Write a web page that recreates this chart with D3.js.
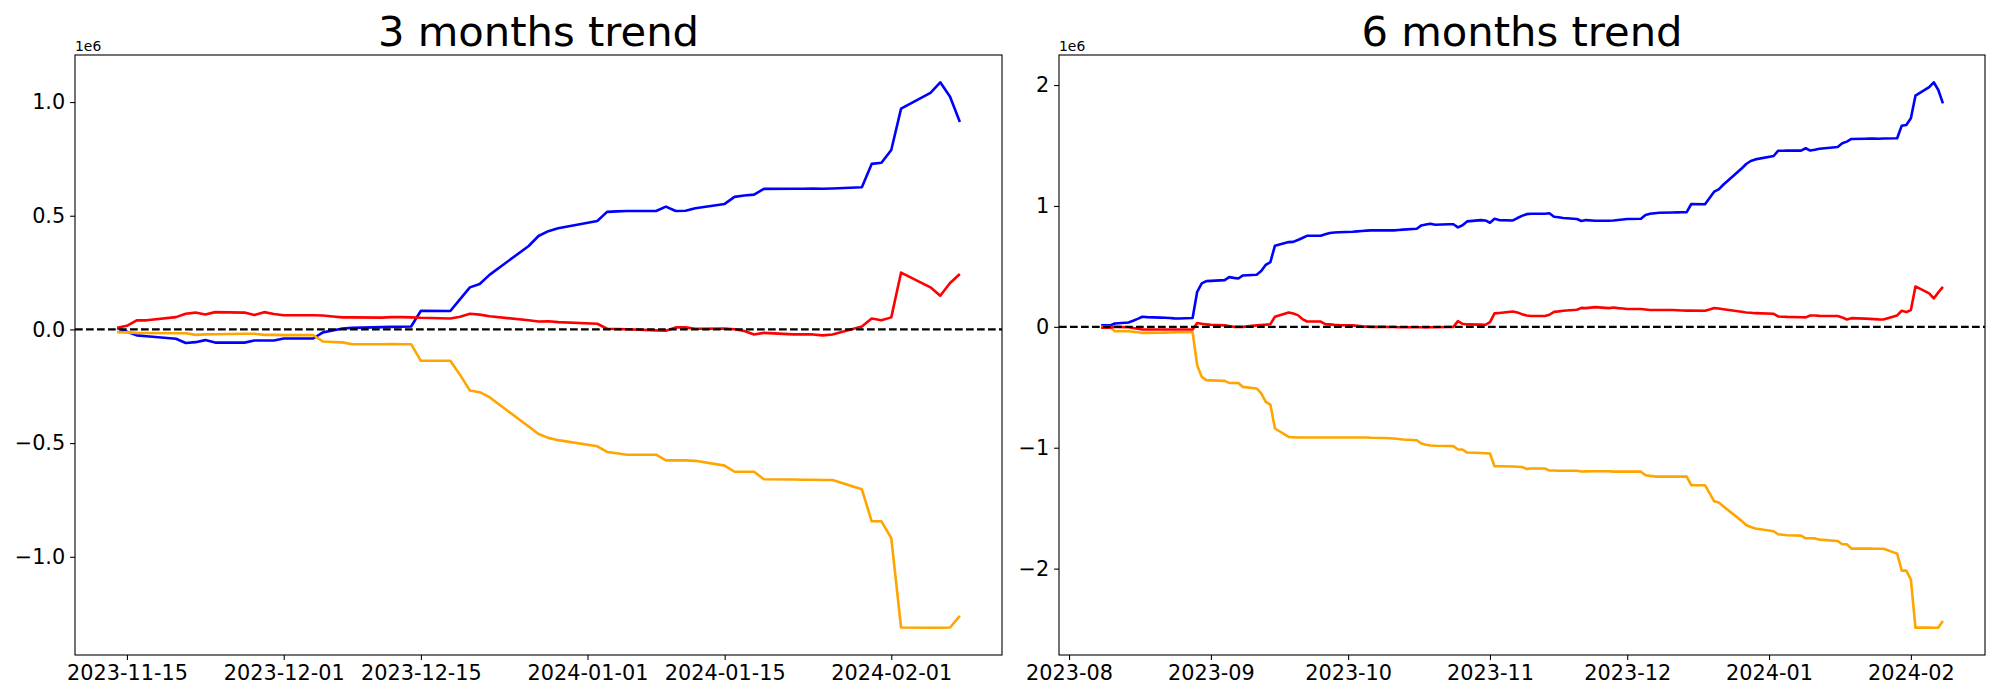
<!DOCTYPE html>
<html>
<head>
<meta charset="utf-8">
<script src="https://cdn.jsdelivr.net/npm/d3@7"></script>
<style>
  body { margin: 0; background: #fff; }
  text { font-family: "DejaVu Sans", sans-serif; }
</style>
</head>
<body>
<div id="chart"></div>
<script>
// 3 months panel
var dates3m = ["2023-11-14","2023-11-15","2023-11-16","2023-11-17","2023-11-20","2023-11-21","2023-11-22","2023-11-23","2023-11-24",
  "2023-11-27","2023-11-28","2023-11-29","2023-11-30","2023-12-01","2023-12-04","2023-12-05","2023-12-06","2023-12-07","2023-12-08",
  "2023-12-11","2023-12-12","2023-12-13","2023-12-14","2023-12-15","2023-12-18","2023-12-19","2023-12-20","2023-12-21","2023-12-22",
  "2023-12-26","2023-12-27","2023-12-28","2023-12-29","2024-01-02","2024-01-03","2024-01-04","2024-01-05","2024-01-08","2024-01-09",
  "2024-01-10","2024-01-11","2024-01-12","2024-01-15","2024-01-16","2024-01-17","2024-01-18","2024-01-19","2024-01-22","2024-01-23",
  "2024-01-24","2024-01-25","2024-01-26","2024-01-29","2024-01-30","2024-01-31","2024-02-01","2024-02-02","2024-02-05","2024-02-06",
  "2024-02-07","2024-02-08"];
var blue3m = [0.006,-0.010,-0.026,-0.030,-0.041,-0.060,-0.056,-0.047,-0.058,
  -0.058,-0.049,-0.049,-0.049,-0.040,-0.040,-0.013,-0.005,0.004,0.007,
  0.010,0.011,0.012,0.013,0.082,0.081,0.133,0.185,0.200,0.240,
  0.367,0.411,0.432,0.445,0.477,0.517,0.519,0.521,0.521,0.540,
  0.521,0.522,0.533,0.552,0.583,0.589,0.593,0.618,0.619,0.619,
  0.620,0.619,0.620,0.625,0.728,0.733,0.789,0.971,1.040,1.087,
  1.023,0.912];
var red3m = [0.007,0.016,0.040,0.040,0.054,0.069,0.074,0.066,0.076,
  0.074,0.063,0.076,0.068,0.062,0.062,0.061,0.057,0.053,0.053,
  0.052,0.054,0.054,0.053,0.051,0.048,0.056,0.069,0.065,0.058,
  0.040,0.035,0.036,0.032,0.025,0.003,0.002,0.001,-0.004,-0.006,
  0.009,0.009,0.003,0.004,0.001,-0.007,-0.022,-0.015,-0.022,-0.022,
  -0.022,-0.026,-0.022,0.013,0.048,0.040,0.053,0.250,0.185,0.148,
  0.204,0.244];
var orange3m = [-0.012,-0.013,-0.015,-0.016,-0.017,-0.017,-0.024,-0.022,-0.021,
  -0.019,-0.019,-0.024,-0.024,-0.025,-0.025,-0.053,-0.055,-0.057,-0.065,
  -0.065,-0.064,-0.065,-0.065,-0.138,-0.138,-0.200,-0.269,-0.276,-0.298,
  -0.427,-0.460,-0.477,-0.487,-0.514,-0.539,-0.545,-0.551,-0.551,-0.576,
  -0.576,-0.576,-0.578,-0.599,-0.626,-0.626,-0.626,-0.659,-0.660,-0.661,
  -0.661,-0.662,-0.662,-0.703,-0.844,-0.844,-0.918,-1.311,-1.312,-1.312,
  -1.311,-1.260];
var xTicks3m = ["2023-11-15","2023-12-01","2023-12-15","2024-01-01","2024-01-15","2024-02-01"];
var yTicks3m = [-1.0,-0.5,0.0,0.5,1.0];

// 6 months panel
var dates6m = ["2023-08-08","2023-08-09","2023-08-10","2023-08-11","2023-08-14","2023-08-15","2023-08-16","2023-08-17","2023-08-18",
  "2023-08-21","2023-08-22","2023-08-23","2023-08-24","2023-08-25","2023-08-28","2023-08-29","2023-08-30","2023-08-31","2023-09-01",
  "2023-09-04","2023-09-05","2023-09-06","2023-09-07","2023-09-08","2023-09-11","2023-09-12","2023-09-13","2023-09-14","2023-09-15",
  "2023-09-18","2023-09-19","2023-09-20","2023-09-21","2023-09-22","2023-09-25","2023-09-26","2023-09-27","2023-09-28","2023-09-29",
  "2023-10-02","2023-10-03","2023-10-04","2023-10-05","2023-10-06","2023-10-09","2023-10-10","2023-10-11","2023-10-12","2023-10-13",
  "2023-10-16","2023-10-17","2023-10-18","2023-10-19","2023-10-20","2023-10-23","2023-10-24","2023-10-25","2023-10-26","2023-10-27",
  "2023-10-30","2023-10-31","2023-11-01","2023-11-02","2023-11-03","2023-11-06","2023-11-07","2023-11-08","2023-11-09","2023-11-10",
  "2023-11-13","2023-11-14","2023-11-15","2023-11-16","2023-11-17","2023-11-20","2023-11-21","2023-11-22","2023-11-24","2023-11-27",
  "2023-11-28","2023-11-29","2023-11-30","2023-12-01","2023-12-04","2023-12-05","2023-12-06","2023-12-07","2023-12-08","2023-12-11",
  "2023-12-12","2023-12-13","2023-12-14","2023-12-15","2023-12-18","2023-12-19","2023-12-20","2023-12-21","2023-12-22","2023-12-26",
  "2023-12-27","2023-12-28","2023-12-29","2024-01-02","2024-01-03","2024-01-04","2024-01-05","2024-01-08","2024-01-09","2024-01-10",
  "2024-01-11","2024-01-12","2024-01-16","2024-01-17","2024-01-18","2024-01-19","2024-01-22","2024-01-23","2024-01-24","2024-01-25",
  "2024-01-26","2024-01-29","2024-01-30","2024-01-31","2024-02-01","2024-02-02","2024-02-05","2024-02-06","2024-02-07","2024-02-08"];
var blue6m = [0.012,0.012,0.012,0.028,0.036,0.050,0.066,0.083,0.080,
  0.076,0.075,0.073,0.070,0.069,0.073,0.290,0.359,0.378,0.380,
  0.386,0.411,0.405,0.400,0.425,0.431,0.461,0.513,0.536,0.671,
  0.701,0.703,0.718,0.735,0.753,0.753,0.765,0.776,0.780,0.783,
  0.787,0.790,0.793,0.796,0.798,0.798,0.799,0.798,0.801,0.804,
  0.811,0.839,0.846,0.853,0.845,0.848,0.849,0.823,0.840,0.872,
  0.883,0.880,0.861,0.894,0.883,0.880,0.900,0.918,0.932,0.935,
  0.936,0.939,0.911,0.906,0.900,0.892,0.875,0.883,0.877,0.877,
  0.879,0.884,0.888,0.892,0.894,0.925,0.935,0.940,0.944,0.946,
  0.947,0.948,0.949,1.016,1.014,1.066,1.118,1.137,1.175,1.310,
  1.347,1.372,1.385,1.413,1.457,1.457,1.458,1.458,1.477,1.458,
  1.465,1.473,1.488,1.518,1.532,1.554,1.556,1.557,1.557,1.556,
  1.558,1.560,1.664,1.670,1.725,1.912,1.982,2.023,1.959,1.849];
var red6m = [-0.008,-0.008,-0.008,0.000,-0.004,-0.010,-0.016,-0.022,-0.022,
  -0.022,-0.022,-0.022,-0.022,-0.022,-0.022,0.031,0.025,0.020,0.017,
  0.012,0.006,0.000,0.000,0.000,0.012,0.015,0.018,0.022,0.083,
  0.119,0.110,0.097,0.064,0.044,0.044,0.022,0.020,0.016,0.014,
  0.012,0.008,0.004,0.002,0.000,0.000,-0.002,-0.002,-0.003,-0.004,
  -0.004,-0.004,-0.005,-0.004,-0.003,-0.001,0.000,0.047,0.025,0.020,
  0.018,0.017,0.039,0.111,0.115,0.127,0.118,0.105,0.094,0.089,
  0.089,0.100,0.124,0.128,0.133,0.141,0.157,0.155,0.163,0.155,
  0.160,0.155,0.151,0.147,0.147,0.144,0.139,0.139,0.139,0.139,
  0.137,0.135,0.134,0.134,0.133,0.144,0.155,0.152,0.146,0.125,
  0.119,0.116,0.113,0.108,0.086,0.084,0.082,0.079,0.078,0.094,
  0.094,0.091,0.089,0.078,0.061,0.072,0.068,0.066,0.064,0.062,
  0.061,0.094,0.133,0.122,0.139,0.334,0.276,0.235,0.285,0.331];
var orange6m = [0.000,0.000,0.000,-0.036,-0.036,-0.040,-0.045,-0.050,-0.050,
  -0.049,-0.048,-0.047,-0.046,-0.045,-0.044,-0.317,-0.414,-0.441,-0.443,
  -0.447,-0.464,-0.464,-0.464,-0.497,-0.510,-0.551,-0.621,-0.643,-0.841,
  -0.911,-0.913,-0.916,-0.916,-0.916,-0.916,-0.916,-0.916,-0.916,-0.916,
  -0.916,-0.916,-0.916,-0.916,-0.918,-0.920,-0.922,-0.924,-0.928,-0.932,
  -0.938,-0.965,-0.975,-0.982,-0.984,-0.986,-0.987,-1.015,-1.015,-1.040,
  -1.044,-1.046,-1.048,-1.153,-1.153,-1.155,-1.157,-1.159,-1.175,-1.172,
  -1.172,-1.189,-1.189,-1.190,-1.190,-1.190,-1.197,-1.196,-1.195,-1.195,
  -1.198,-1.198,-1.198,-1.198,-1.198,-1.228,-1.233,-1.237,-1.239,-1.239,
  -1.239,-1.239,-1.239,-1.310,-1.310,-1.376,-1.443,-1.454,-1.485,-1.605,
  -1.639,-1.656,-1.668,-1.691,-1.716,-1.720,-1.724,-1.727,-1.749,-1.749,
  -1.750,-1.760,-1.771,-1.799,-1.799,-1.835,-1.835,-1.835,-1.836,-1.836,
  -1.836,-1.876,-2.017,-2.017,-2.091,-2.488,-2.488,-2.489,-2.488,-2.434];
var xTicks6m = ["2023-08","2023-09","2023-10","2023-11","2023-12","2024-01","2024-02"];
var yTicks6m = [-2,-1,0,1,2];

var seriesColors = ["blue", "orange", "red"];

var svgWidth = 2000;
var svgHeight = 700;
var scale = 1e6;

var parseDay = d3.timeParse("%Y-%m-%d");
var parseMonth = d3.timeParse("%Y-%m");

var svg = d3.select("#chart")
    .append("svg")
    .attr("width", svgWidth)
    .attr("height", svgHeight);

function drawPanel(opts) {
    var width = opts.width;
    var height = opts.height;

    var chartGroup = svg.append("g")
        .attr("transform", `translate(${opts.left}, ${opts.top})`);

    var dates = opts.dates.map(parseDay);
    var allSeries = [opts.blue, opts.orange, opts.red];

    // matplotlib style 5% padding
    var xExt = d3.extent(dates);
    var xPad = (xExt[1] - xExt[0]) * 0.05;
    var xScale = d3.scaleTime()
        .domain([new Date(+xExt[0] - xPad), new Date(+xExt[1] + xPad)])
        .range([0, width]);

    var allVals = d3.merge(allSeries);
    var yMin = d3.min(allVals), yMax = d3.max(allVals);
    var yPad = (yMax - yMin) * 0.05;
    var yScale = d3.scaleLinear()
        .domain([(yMin - yPad) * scale, (yMax + yPad) * scale])
        .range([height, 0]);

    var line = d3.line()
        .x(d => xScale(d.date))
        .y(d => yScale(d.value * scale));

    allSeries.forEach(function(vals, i) {
        var pts = vals.map((v, j) => ({date: dates[j], value: v}));
        chartGroup.append("path")
            .datum(pts)
            .attr("fill", "none")
            .attr("stroke", seriesColors[i])
            .attr("stroke-width", 2.6)
            .attr("stroke-linejoin", "round")
            .attr("d", line);
    });

    // zero line
    chartGroup.append("line")
        .attr("x1", 0)
        .attr("x2", width)
        .attr("y1", yScale(0))
        .attr("y2", yScale(0))
        .attr("stroke", "black")
        .attr("stroke-width", 2.2)
        .attr("stroke-dasharray", "7.7,3.3");

    var bottomAxis = d3.axisBottom(xScale)
        .tickValues(opts.xTicks)
        .tickFormat(opts.xFormat)
        .tickSize(4.9)
        .tickSizeOuter(0)
        .tickPadding(4.9);

    var leftAxis = d3.axisLeft(yScale)
        .tickValues(opts.yTicks.map(v => v * scale))
        .tickFormat(v => opts.yFormat(v / scale))
        .tickSize(4.9)
        .tickSizeOuter(0)
        .tickPadding(4.9);

    var xg = chartGroup.append("g")
        .attr("transform", `translate(0, ${height})`)
        .call(bottomAxis);
    var yg = chartGroup.append("g")
        .call(leftAxis);

    [xg, yg].forEach(function(g) {
        g.select(".domain").remove();
        g.selectAll("line").attr("stroke", "black").attr("stroke-width", 1.1);
        g.selectAll("text")
            .attr("fill", "black")
            .style("font-family", "'DejaVu Sans', sans-serif")
            .style("font-size", "20.8px");
    });

    // frame
    chartGroup.append("rect")
        .attr("x", 0)
        .attr("y", 0)
        .attr("width", width)
        .attr("height", height)
        .attr("fill", "none")
        .attr("stroke", "black")
        .attr("stroke-width", 1.1);

    chartGroup.append("text")
        .attr("x", 0)
        .attr("y", -4)
        .style("font-size", "13.9px")
        .text("1e6");

    chartGroup.append("text")
        .attr("x", width / 2)
        .attr("y", -9)
        .attr("text-anchor", "middle")
        .style("font-size", "41.7px")
        .text(opts.title);
}

drawPanel({
    left: 75, top: 55, width: 927, height: 600,
    title: "3 months trend",
    dates: dates3m, blue: blue3m, red: red3m, orange: orange3m,
    xTicks: xTicks3m.map(parseDay),
    xFormat: d3.timeFormat("%Y-%m-%d"),
    yTicks: yTicks3m,
    yFormat: d3.format(".1f")
});

drawPanel({
    left: 1059, top: 55, width: 926, height: 600,
    title: "6 months trend",
    dates: dates6m, blue: blue6m, red: red6m, orange: orange6m,
    xTicks: xTicks6m.map(parseMonth),
    xFormat: d3.timeFormat("%Y-%m"),
    yTicks: yTicks6m,
    yFormat: d3.format("d")
});
</script>
</body>
</html>
